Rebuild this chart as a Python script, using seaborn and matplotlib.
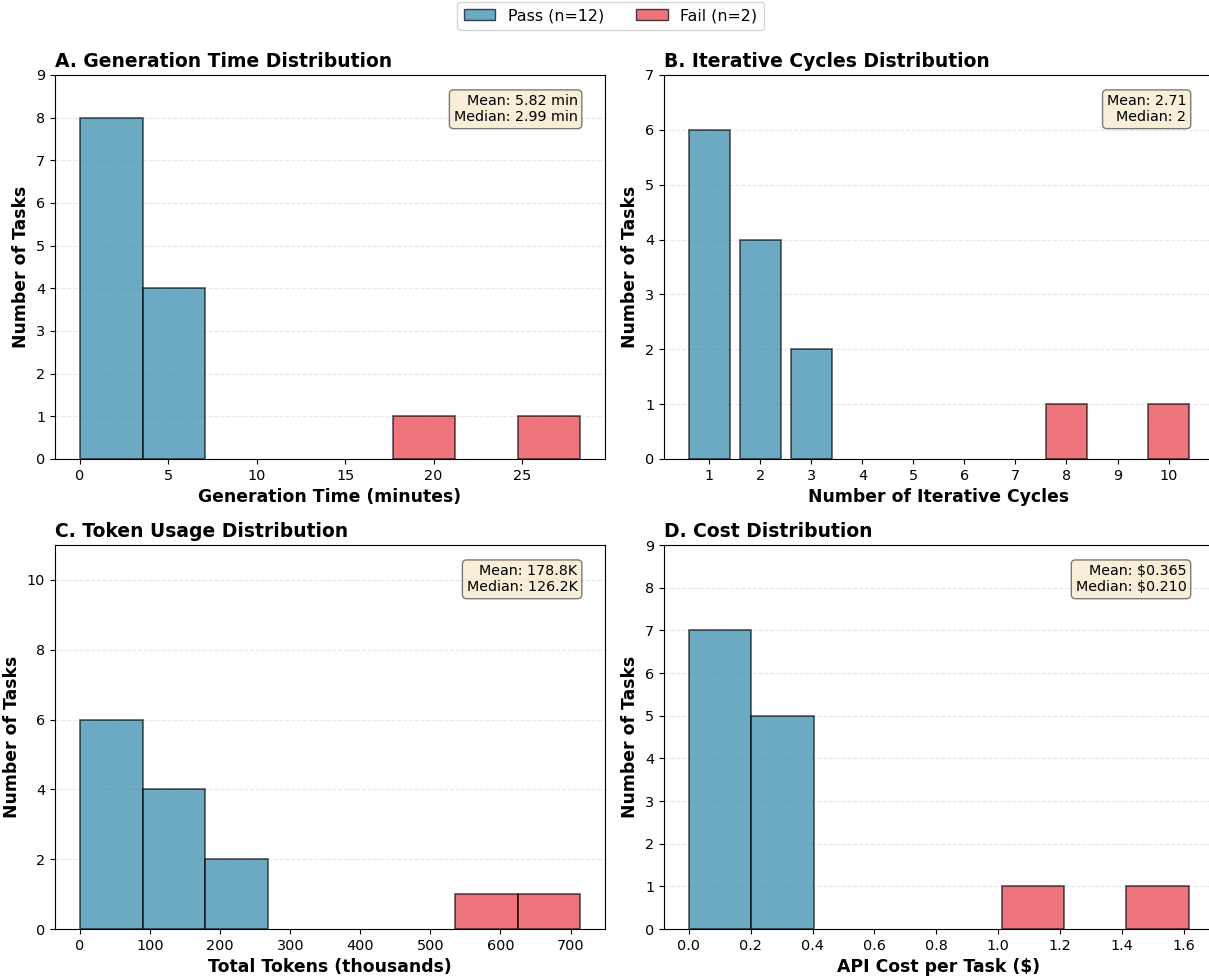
import numpy as np
import pandas as pd
import seaborn as sns
import matplotlib.pyplot as plt
from matplotlib.patches import Patch

#%% Data (bin edges + counts per status)

statuses = ["Pass", "Fail"]
colors = {"Pass": "#2E86AB", "Fail": "#E63946"}

# A. generation time (minutes)
time_edges = [0.0, 3.535, 7.07, 10.605, 14.14, 17.675, 21.21, 24.745, 28.28]
time_pass = [8, 4, 0, 0, 0, 0, 0, 0]
time_fail = [0, 0, 0, 0, 0, 1, 0, 1]
time_stats = "Mean: 5.82 min\nMedian: 2.99 min"

# B. iterative cycles
cycles = [1, 2, 3, 4, 5, 6, 7, 8, 9, 10]
cycles_pass = [6, 4, 2, 0, 0, 0, 0, 0, 0, 0]
cycles_fail = [0, 0, 0, 0, 0, 0, 0, 1, 0, 1]
cycles_stats = "Mean: 2.71\nMedian: 2"

# C. tokens (thousands)
token_edges = [0.0, 89.2, 178.4, 267.6, 356.8, 446.0, 535.2, 624.4, 713.6]
token_pass = [6, 4, 2, 0, 0, 0, 0, 0]
token_fail = [0, 0, 0, 0, 0, 0, 1, 1]
token_stats = "Mean: 178.8K\nMedian: 126.2K"

# D. cost ($)
cost_edges = [0.0, 0.202, 0.404, 0.606, 0.809, 1.011, 1.213, 1.415, 1.617]
cost_pass = [7, 5, 0, 0, 0, 0, 0, 0]
cost_fail = [0, 0, 0, 0, 0, 1, 0, 1]
cost_stats = "Mean: $0.365\nMedian: $0.210"


def to_long(centers, n_pass, n_fail):
    df = pd.DataFrame({
        "value": list(centers) * 2,
        "count": list(n_pass) + list(n_fail),
        "status": ["Pass"] * len(centers) + ["Fail"] * len(centers),
    })
    return df


def centers_of(edges):
    e = np.array(edges)
    return (e[:-1] + e[1:]) / 2


def decorate(ax, title, xlabel, txt):
    ax.set_title(title, loc="left", fontsize=13.5, fontweight="bold")
    ax.set_xlabel(xlabel, fontsize=12.4, fontweight="bold")
    ax.set_ylabel("Number of Tasks", fontsize=12.4, fontweight="bold")
    ax.text(0.95, 0.95, txt, transform=ax.transAxes, ha="right", va="top",
            fontsize=10.3, bbox=dict(boxstyle="round", facecolor="wheat", alpha=0.5))
    # empty bins get no outline
    for p in list(ax.patches):
        if p.get_height() == 0:
            p.remove()


#%% Plot

fig, axes = plt.subplots(2, 2, figsize=(12.09, 9.8), dpi=100)
# right column runs slightly past the figure edge, as in the reference
fig.subplots_adjust(left=0.0455, right=1.0041, bottom=0.052, top=0.9235,
                     wspace=0.107, hspace=0.224)

hist_kw = dict(x="value", weights="count", hue="status", hue_order=statuses,
               palette=colors, multiple="stack", alpha=0.7,
               edgecolor=(0, 0, 0, 0.65), linewidth=1.2, legend=False)

panels = [
    (axes[0, 0], time_edges, time_pass, time_fail, time_stats,
     "A. Generation Time Distribution", "Generation Time (minutes)", 9),
    (axes[1, 0], token_edges, token_pass, token_fail, token_stats,
     "C. Token Usage Distribution", "Total Tokens (thousands)", 11),
    (axes[1, 1], cost_edges, cost_pass, cost_fail, cost_stats,
     "D. Cost Distribution", "API Cost per Task ($)", 9),
]

for ax, edges, n_pass, n_fail, txt, title, xlabel, ytop in panels:
    df = to_long(centers_of(edges), n_pass, n_fail)
    sns.histplot(data=df, bins=edges, ax=ax, **hist_kw)
    ax.set_ylim(0, ytop)
    decorate(ax, title, xlabel, txt)

# B is discrete
ax = axes[0, 1]
df_b = to_long(cycles, cycles_pass, cycles_fail)
sns.histplot(data=df_b, discrete=True, shrink=0.8, ax=ax, **hist_kw)
ax.set_xticks(cycles)
ax.set_ylim(0, 7)
decorate(ax, "B. Iterative Cycles Distribution", "Number of Iterative Cycles", cycles_stats)

for ax in axes.flat:
    ax.grid(axis="y", alpha=0.3, linestyle="--")
    ax.set_axisbelow(True)
    ax.tick_params(labelsize=10.4)

handles = [Patch(facecolor=colors[s], edgecolor="black", alpha=0.7) for s in statuses]
labels = ["Pass (n=%d)" % sum(time_pass), "Fail (n=%d)" % sum(time_fail)]
fig.legend(handles, labels, loc="upper center", ncol=2, fontsize=11.4,
           bbox_to_anchor=(0.505, 1.006))

fig.savefig("out.png", dpi=100)
